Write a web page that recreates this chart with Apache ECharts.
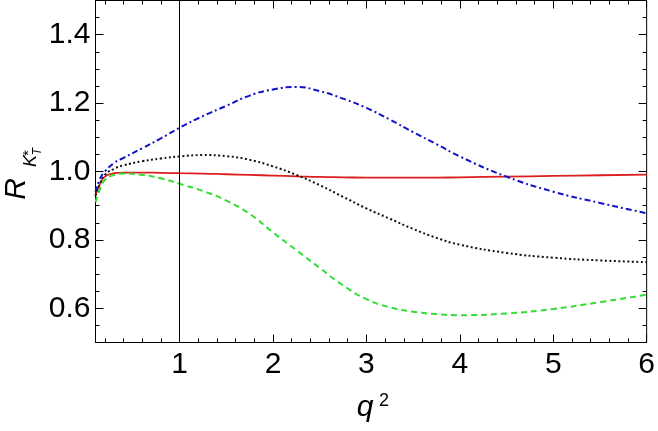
<!DOCTYPE html>
<html>
<head>
<meta charset="utf-8">
<title>R_K*T vs q2</title>
<script src="https://cdn.jsdelivr.net/npm/echarts@6/dist/echarts.min.js"></script>
<style>
  html, body { margin: 0; padding: 0; background: #fff; }
  #chart { width: 658px; height: 431px; }
</style>
</head>
<body>
<div id="chart"></div>
<script>
// q^2 sample points
const qSq = [0.1, 0.15, 0.2, 0.3, 0.4, 0.6, 0.8, 1, 1.25, 1.5, 1.75, 2, 2.25, 2.5, 2.75, 3, 3.25, 3.5, 3.75, 4, 4.5, 5, 5.5, 6];

// curves
const redVals = [0.93, 0.965, 0.985, 0.995, 0.997, 0.997, 0.996, 0.995, 0.994, 0.992, 0.99, 0.988, 0.986, 0.984, 0.983, 0.982, 0.982, 0.982, 0.982, 0.983, 0.985, 0.987, 0.989, 0.991];
const blueVals = [0.94, 0.98, 1.0, 1.025, 1.04, 1.068, 1.097, 1.128, 1.162, 1.192, 1.222, 1.24, 1.247, 1.235, 1.213, 1.186, 1.152, 1.115, 1.08, 1.044, 0.985, 0.941, 0.908, 0.878];
const blackVals = [0.93, 0.965, 0.99, 1.008, 1.018, 1.03, 1.038, 1.044, 1.048, 1.045, 1.034, 1.015, 0.99, 0.96, 0.926, 0.892, 0.862, 0.832, 0.806, 0.786, 0.762, 0.748, 0.74, 0.735];
const greenVals = [0.91, 0.95, 0.975, 0.99, 0.994, 0.99, 0.98, 0.964, 0.943, 0.915, 0.876, 0.822, 0.77, 0.718, 0.667, 0.627, 0.603, 0.59, 0.583, 0.58, 0.585, 0.598, 0.618, 0.64];

// axis ranges / steps
const xRange = [0.1, 6];
const yRange = [0.5, 1.5];
const xStep = 1;
const yStep = 0.2;
const vLineAt = 1;

const font = "'Liberation Sans', Arial, sans-serif";

function pairs (vals) {
  return qSq.map((x, i) => [x, vals[i]]);
}

// frame axes: the step is forced through min/maxInterval so the ticks stay on round values
function xAxisDef (position, labels) {
  return {
    type: 'value',
    position: position,
    min: xRange[0],
    max: xRange[1],
    minInterval: xStep,
    maxInterval: xStep,
    axisLine: { show: false },
    axisTick: { show: true, inside: true, length: 8, lineStyle: { color: '#000', width: 1 } },
    minorTick: { show: true, splitNumber: 5, length: 4, lineStyle: { color: '#000', width: 1 } },
    axisLabel: {
      show: labels,
      showMinLabel: false,
      margin: 7,
      color: '#000',
      fontSize: 30,
      fontFamily: font,
      formatter: v => (Math.abs(v - Math.round(v)) < 1e-6 ? String(Math.round(v)) : '')
    },
    splitLine: { show: false }
  };
}

function yAxisDef (position, labels) {
  return {
    type: 'value',
    position: position,
    min: yRange[0],
    max: yRange[1],
    minInterval: yStep,
    maxInterval: yStep,
    axisLine: { show: false },
    axisTick: { show: true, inside: true, length: 8, lineStyle: { color: '#000', width: 1 } },
    minorTick: { show: true, splitNumber: 4, length: 4, lineStyle: { color: '#000', width: 1 } },
    axisLabel: {
      show: labels,
      showMinLabel: false,
      showMaxLabel: false,
      margin: 5,
      color: '#000',
      fontSize: 30,
      fontFamily: font,
      formatter: v => v.toFixed(1)
    },
    splitLine: { show: false }
  };
}

function lineSeries (name, vals, color, width, dash) {
  return {
    name: name,
    type: 'line',
    xAxisIndex: 0,
    yAxisIndex: 0,
    data: pairs(vals),
    showSymbol: false,
    smooth: 0.5,
    lineStyle: { color: color, width: width, type: dash },
    z: 3
  };
}

const chart = echarts.init(document.getElementById('chart'));

const option = {
  animation: false,
  backgroundColor: '#fff',
  // the grid border is the plot frame
  grid: {
    show: true,
    left: 95.5,
    right: 8.5,
    top: 0.5,
    bottom: 88.5,
    borderColor: '#000',
    borderWidth: 1,
    backgroundColor: 'transparent'
  },
  xAxis: [
    xAxisDef('bottom', true),
    xAxisDef('top', false)
  ],
  yAxis: [
    yAxisDef('left', true),
    yAxisDef('right', false)
  ],
  series: [
    Object.assign(lineSeries('red', redVals, '#dc1e1e', 1.8, 'solid'), {
      markLine: {
        silent: true,
        symbol: ['none', 'none'],
        label: { show: false },
        lineStyle: { color: '#000', width: 1, type: 'solid' },
        data: [{ xAxis: vLineAt }]
      }
    }),
    lineSeries('blue', blueVals, '#1212c8', 2, [6, 3, 2, 3]),
    lineSeries('black', blackVals, '#111', 2, [2, 2.5]),
    lineSeries('green', greenVals, '#33dd33', 2, [6, 4])
  ],
  graphic: [
    // x axis title q^2
    { type: 'text', x: 365, y: 408, style: { text: 'q', font: 'italic 30px ' + font, fill: '#000', align: 'center', verticalAlign: 'middle' } },
    { type: 'text', x: 384, y: 401, style: { text: '2', font: '18px ' + font, fill: '#000', align: 'center', verticalAlign: 'middle' } },
    // y axis title R_{K*_T}, rotated
    {
      type: 'group',
      x: 0,
      y: 0,
      rotation: Math.PI / 2,
      children: [
        { type: 'text', x: -189, y: 16.5, style: { text: 'R', font: 'italic 30px ' + font, fill: '#000', align: 'center', verticalAlign: 'middle' } },
        { type: 'text', x: -161, y: 31, style: { text: 'K', font: 'italic 18px ' + font, fill: '#000', align: 'center', verticalAlign: 'middle' } },
        { type: 'text', x: -153, y: 29, style: { text: '*', font: '15px ' + font, fill: '#000', align: 'center', verticalAlign: 'middle' } },
        { type: 'text', x: -151.5, y: 37.5, style: { text: 'T', font: 'italic 12px ' + font, fill: '#000', align: 'center', verticalAlign: 'middle' } }
      ]
    }
  ]
};

chart.setOption(option);
</script>
</body>
</html>
